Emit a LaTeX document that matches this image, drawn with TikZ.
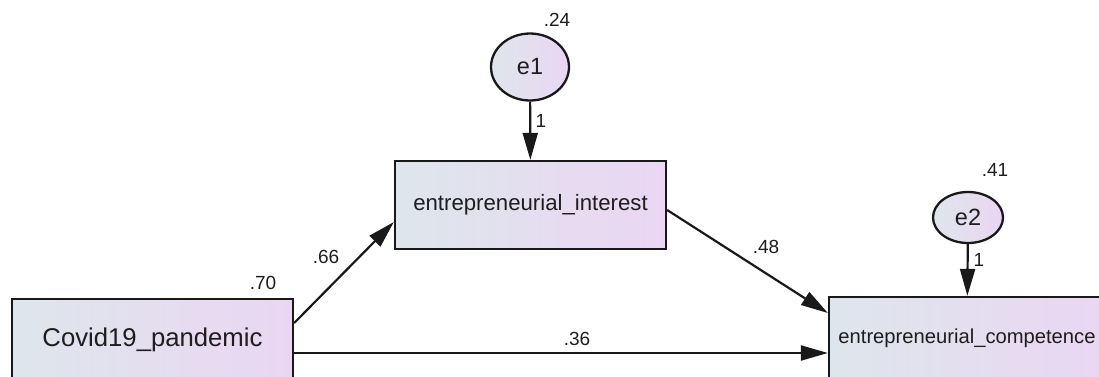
\documentclass[tikz,border=0pt]{standalone}
\usepackage{fontspec}
\setmainfont{Liberation Sans}
\usepackage{tikz}
\usetikzlibrary{arrows.meta,shapes.geometric}
\definecolor{boxleft}{RGB}{222,230,236}
\definecolor{boxright}{RGB}{234,214,243}
\definecolor{txt}{RGB}{30,30,30}

\begin{document}
\begin{tikzpicture}[
    x=1pt, y=-1pt,
    every node/.style={text=txt},
    var/.style={draw=black!90, line width=2.3pt, left color=boxleft, right color=boxright,
      inner sep=0pt},
    err/.style={ellipse, draw=black!90, line width=2.3pt, left color=boxleft, right color=boxright,
      inner sep=0pt, font=\fontsize{23.5}{25}\selectfont},
    num/.style={font=\fontsize{19}{21}\selectfont},
    path/.style={line width=2.2pt, draw=black!90, -{Triangle[length=27pt,width=15pt]}},
  ]
  \clip (0,0) rectangle (1099,376);
  \node[var, minimum width=281pt, minimum height=82pt, font=\fontsize{25.7}{27}\selectfont]
    (covid) at (152.5,340) {Covid19\_pandemic};
  \node[var, minimum width=271pt, minimum height=88pt, font=\fontsize{22.2}{24}\selectfont]
    (interest) at (530.5,205) {entrepreneurial\_interest};
  \node[var, minimum width=276pt, minimum height=82pt, font=\fontsize{20.2}{22}\selectfont]
    (competence) at (967,338) {entrepreneurial\_competence};
  \node[err, minimum width=78pt, minimum height=67pt] (e1) at (530,67) {e1};
  \node[err, minimum width=70pt, minimum height=51pt] (e2) at (968,217.5) {e2};

  \draw[path] (e1) -- (interest);
  \draw[path] (e2) -- (competence);
  \draw[path] ([yshift=17pt]covid.east) -- ([yshift=-17pt]interest.west);
  \draw[path] ([yshift=-5pt]interest.east) -- ([yshift=25pt]competence.west);
  \coordinate (direct) at ([yshift=-13pt]covid.east);
  \draw[path] (direct) -- (direct -| competence.west);

  \node[num] (r1) at (557,20) {.24};
  \node[num] (r2) at (995,170) {.41};
  \node[num] (r3) at (263,283) {.70};
  \node[num] (w1) at (541,121) {1};
  \node[num] (w2) at (979,260) {1};
  \node[num] (b1) at (326,257) {.66};
  \node[num] (b2) at (766,247) {.48};
  \node[num] (b3) at (577,339) {.36};
\end{tikzpicture}
\end{document}
